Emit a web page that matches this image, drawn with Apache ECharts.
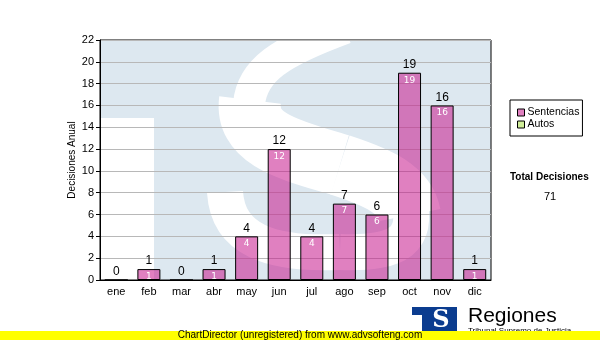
<!DOCTYPE html>
<html><head><meta charset="utf-8">
<script src="https://cdn.jsdelivr.net/npm/echarts@6/dist/echarts.min.js"></script>
<style>html,body{margin:0;padding:0;background:#fff}#c{width:600px;height:340px}</style>
</head><body><div id="c"></div>
<script>
const months = ['ene','feb','mar','abr','may','jun','jul','ago','sep','oct','nov','dic'];
const sentencias = [0,1,0,1,4,12,4,7,6,19,16,1];
const autos = [0,0,0,0,0,0,0,0,0,0,0,0];
const yMin = 0, yMax = 22, yStep = 2;
const seriesNames = ['Sentencias','Autos'];
const totalTitle = 'Total Decisiones';
const totalValue = 71;
const yAxisTitle = 'Decisiones Anual';
const footer = 'ChartDirector (unregistered) from www.advsofteng.com';

const F = 'Liberation Sans, Arial, sans-serif';
const LB = '#dde8f0';
const chart = echarts.init(document.getElementById('c'), null, {renderer:'canvas'});
const G = {left:100, top:40, width:391, height:240};

function bez(p, w) {
  return {type:'bezierCurve', z:-19, shape:{x1:p[0], y1:p[1], cpx1:p[2], cpy1:p[3], cpx2:p[4], cpy2:p[5], x2:p[6], y2:p[7]},
    style:{fill:null, stroke:'#fff', lineWidth:w}};
}

chart.setOption({
  animation:false,
  backgroundColor:'#fff',
  grid:{left:G.left, top:G.top, width:G.width, height:G.height, show:true, borderColor:'#000', borderWidth:1, backgroundColor:'transparent', containLabel:false},
  legend:{
    data:seriesNames, orient:'vertical', left:510, top:100,
    borderColor:'#000', borderWidth:1, padding:[7,3,6,7], itemGap:1,
    icon:'rect', itemWidth:7, itemHeight:7, itemStyle:{borderColor:'#000', borderWidth:1},
    textStyle:{fontFamily:F, fontSize:10.5, color:'#000', padding:[0,0,0,-2]}
  },
  xAxis:{
    type:'category', data:months,
    axisLine:{lineStyle:{color:'#000', width:1}},
    axisTick:{alignWithLabel:true, length:4, lineStyle:{color:'#000'}},
    axisLabel:{fontFamily:F, fontSize:11, color:'#000', margin:6},
    splitLine:{show:false}
  },
  yAxis:{
    type:'value', min:yMin, max:yMax, interval:yStep,
    name:yAxisTitle, nameLocation:'middle', nameGap:23, nameMoveOverlap:false,
    nameTextStyle:{fontFamily:F, fontSize:10, color:'#000'},
    axisLine:{show:true, lineStyle:{color:'#000', width:1}},
    axisTick:{show:true, length:4, lineStyle:{color:'#000'}},
    axisLabel:{fontFamily:F, fontSize:11, color:'#000', margin:6},
    splitLine:{show:true, lineStyle:{color:'#b8b8b8', width:1}}
  },
  series:[
    {
      name:seriesNames[0], type:'bar', stack:'t', data:sentencias, barWidth:23,
      itemStyle:{color:'rgba(198,24,140,0.55)', borderColor:'#000', borderWidth:1},
      label:{show:true, position:'insideTop', distance:3, color:'#fff', fontFamily:'DejaVu Sans, sans-serif', fontSize:9,
        formatter:p => p.value > 0 ? String(p.value) : ''}
    },
    {
      name:seriesNames[1], type:'bar', stack:'t', data:autos, barWidth:23,
      itemStyle:{color:'#d0ee99', borderWidth:0},
      label:{show:true, position:'top', distance:2, color:'#000', fontFamily:F, fontSize:12,
        formatter:p => String(sentencias[p.dataIndex] + autos[p.dataIndex])}
    }
  ],
  graphic:[
    {type:'rect', z:-20, shape:{x:G.left, y:G.top, width:G.width, height:G.height}, style:{fill:LB}},
    {type:'rect', z:-19, shape:{x:101, y:118, width:53, height:162}, style:{fill:'#fff'}},
    bez([249,104, 252,70, 280,52, 345,28], 32),
    bez([250,100, 245,140, 290,150, 340,165], 62),
    bez([340,165, 380,178, 405,190, 410,215], 62),
    bez([408,195, 420,240, 400,254, 340,252], 36),
    bez([340,252, 270,255, 228,240, 225,192], 36),
    {type:'rect', z:-18, shape:{x:95, y:0, width:410, height:39.5}, style:{fill:'#fff'}},
    {type:'rect', z:-18, shape:{x:95, y:280.5, width:410, height:20}, style:{fill:'#fff'}},
    {type:'rect', z:-18, shape:{x:491.5, y:30, width:20, height:260}, style:{fill:'#fff'}},
    {type:'text', left:510, top:172, style:{text:totalTitle, font:'bold 10px ' + F, fill:'#000'}},
    {type:'text', z:5, style:{x:550, y:197, text:String(totalValue), font:'11px ' + F, fill:'#000', align:'center', verticalAlign:'middle'}},
    {type:'rect', z:5, shape:{x:412, y:307, width:45, height:25}, style:{fill:'#0b3c8f'}},
    {type:'rect', z:6, shape:{x:412, y:315, width:10, height:17}, style:{fill:'#fff'}},
    {type:'text', z:6, style:{x:441, y:321, text:'S', font:'bold 24px DejaVu Serif, serif', fill:'#fff', align:'center', verticalAlign:'middle'}},
    {type:'text', z:5, style:{x:468, y:316, text:'Regiones', font:'21px ' + F, fill:'#000', align:'left', verticalAlign:'middle'}},
    {type:'text', z:5, style:{x:468, y:327, text:'Tribunal Supremo de Justicia', font:'8px ' + F, fill:'#000', align:'left', verticalAlign:'top'}},
    {type:'rect', z:20, shape:{x:0, y:331, width:600, height:9}, style:{fill:'#ffff00'}},
    {type:'text', z:21, style:{x:300, y:335.5, text:footer, font:'10px ' + F, fill:'#000', align:'center', verticalAlign:'middle'}}
  ]
});
</script></body></html>
